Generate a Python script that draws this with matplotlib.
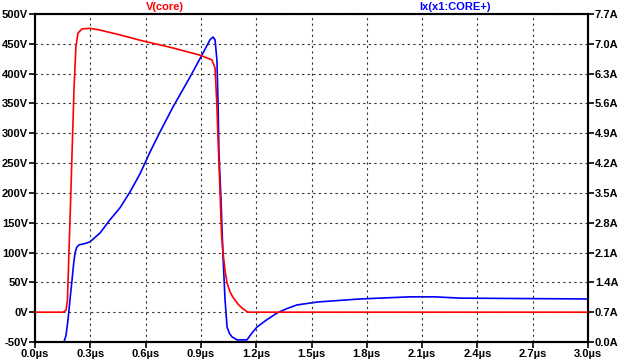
import numpy as np
import matplotlib
matplotlib.use("Agg")
from matplotlib import pyplot as plt
from matplotlib.ticker import FixedLocator

# time in microseconds
t_core = [0.0, 0.152, 0.168, 0.176, 0.184, 0.193, 0.201, 0.212, 0.222, 0.233,
          0.255, 0.298, 0.353, 0.461, 0.570, 0.749, 0.895, 0.960, 0.977, 0.982,
          0.987, 0.993, 1.004, 1.012, 1.020, 1.031, 1.042, 1.058, 1.074, 1.100,
          1.123, 1.145, 1.156, 3.0]
v_core = [0, 0, 3, 20, 99, 185, 267, 378, 445, 468,
          475, 476, 473, 465, 456, 443, 431, 423, 409, 377,
          344, 289, 200, 130, 100, 70, 49, 34, 25, 14,
          7, 2, 0, 0]

t_ix = [0.0, 0.157, 0.168, 0.179, 0.190, 0.201, 0.210, 0.217, 0.226, 0.239,
        0.270, 0.298, 0.353, 0.407, 0.461, 0.515, 0.570, 0.624, 0.678, 0.749,
        0.841, 0.906, 0.950, 0.966, 0.977, 0.987, 0.993, 0.998, 1.009, 1.020,
        1.031, 1.042, 1.055, 1.069, 1.096, 1.150, 1.175, 1.204, 1.260, 1.313,
        1.370, 1.421, 1.535, 1.600, 1.763, 2.034, 2.170, 2.306, 3.0]
i_ix = [0, 0, 0.15, 0.52, 1.0, 1.46, 1.85, 2.09, 2.22, 2.28,
        2.31, 2.35, 2.56, 2.87, 3.15, 3.52, 3.95, 4.46, 4.93, 5.52,
        6.22, 6.74, 7.10, 7.16, 7.09, 6.62, 5.61, 4.44, 3.34, 2.0,
        0.99, 0.35, 0.2, 0.12, 0.05, 0.05, 0.2, 0.35, 0.53, 0.68,
        0.79, 0.87, 0.94, 0.96, 1.01, 1.06, 1.06, 1.03, 1.01]

x_ticks = [0.0, 0.3, 0.6, 0.9, 1.2, 1.5, 1.8, 2.1, 2.4, 2.7, 3.0]
v_ticks = [-50, 0, 50, 100, 150, 200, 250, 300, 350, 400, 450, 500]
a_ticks = [0.0, 0.7, 1.4, 2.1, 2.8, 3.5, 4.2, 4.9, 5.6, 6.3, 7.0, 7.7]

plt.rcParams['font.family'] = ['Liberation Sans', 'DejaVu Sans']
fs = 8

fig = plt.figure(figsize=(6.24, 3.64), dpi=100)
ax = fig.add_axes([35 / 624, 1 - 342 / 364, 553 / 624, 328 / 364])
ax2 = ax.twinx()

ax.plot(t_core, v_core, color=(1, 0, 0), lw=1.2, zorder=3)
ax2.plot(t_ix, i_ix, color=(0, 0, 1), lw=1.2, zorder=3)

ax.set_xlim(0, 3.0)
ax.set_ylim(-50, 500)
ax2.set_ylim(0, 7.7)

ax.xaxis.set_major_locator(FixedLocator(x_ticks))
ax.set_xticklabels(["%.1fµs" % x for x in x_ticks], fontsize=fs, fontweight='bold')
ax.yaxis.set_major_locator(FixedLocator(v_ticks))
ax.set_yticklabels(["%dV" % v for v in v_ticks], fontsize=fs, fontweight='bold')
ax2.yaxis.set_major_locator(FixedLocator(a_ticks))
ax2.set_yticklabels(["%.1fA" % a for a in a_ticks], fontsize=fs, fontweight='bold')

ax.grid(True, color='#303030', linestyle=(0, (2, 3)), linewidth=0.8)
for a in (ax, ax2):
    a.tick_params(direction='out', length=4, width=1.2, pad=1, colors='black')
    for s in a.spines.values():
        s.set_linewidth(1.5)
ax.set_zorder(ax2.get_zorder() + 1)
ax.patch.set_visible(False)

fig.text(165 / 624, 1 - 7 / 364, "V(core)", color=(1, 0, 0), fontsize=fs,
         fontweight='bold', ha='center', va='center')
fig.text(455 / 624, 1 - 7 / 364, "Ix(x1:CORE+)", color=(0, 0, 1), fontsize=fs,
         fontweight='bold', ha='center', va='center')

fig.savefig("out.png", dpi=100)
